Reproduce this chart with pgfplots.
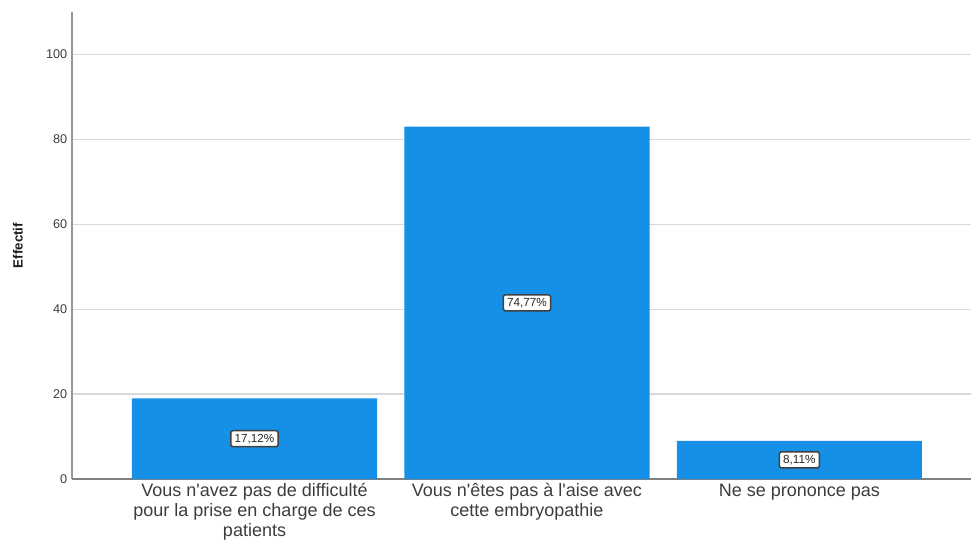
\documentclass[border=0pt]{standalone}
\usepackage{pgfplots}
\pgfplotsset{compat=1.18}
\usepackage{fontspec}
\setmainfont{Liberation Sans}
\definecolor{barblue}{RGB}{21,144,230}
\definecolor{gridgray}{RGB}{217,217,217}
\definecolor{axgray}{RGB}{150,150,150}
\definecolor{txtgray}{RGB}{60,60,60}
\begin{document}
\begin{tikzpicture}[x=1pt,y=1pt]
\useasboundingbox (-54,-48) rectangle (674.25,359.25);
\begin{axis}[
  at={(0,0)}, anchor=south west,
  scale only axis, width=674.25pt, height=350.25pt,
  xmin=-0.67, xmax=2.63, ymin=0, ymax=110,
  axis lines=left,
  axis line style={-},
  x axis line style={draw=axgray!85!black, line width=1pt},
  y axis line style={draw=axgray, line width=1.1pt},
  ymajorgrids,
  major grid style={draw=gridgray, line width=0.9pt},
  major tick length=0pt,
  ytick={0,20,40,60,80,100},
  yticklabel style={font=\fontsize{9.5}{11}\selectfont, text=txtgray},
  /pgf/number format/assume math mode=true,
  xtick={0,1,2},
  xticklabels={{Vous n\textquotesingle avez pas de difficulté\\pour la prise en charge de ces\\patients},
               {Vous n\textquotesingle êtes pas à l\textquotesingle aise avec\\cette embryopathie},
               {Ne se prononce pas}},
  xticklabel style={align=center, font=\fontsize{13.5}{15}\selectfont, text=txtgray},
  ylabel={Effectif},
  every axis y label/.style={at={(axis description cs:-0.0601,0.5)}, rotate=90, anchor=center,
     font=\bfseries\fontsize{10}{12}\selectfont, text=black!90},
  bar width=0.9,
  clip=false,
]
\addplot[ybar, fill=barblue, draw=none] coordinates {(0,19) (1,83) (2,9)};
\addplot[only marks, mark=none, point meta=explicit symbolic,
  nodes near coords,
  nodes near coords align=center,
  every node near coord/.append style={anchor=center, draw=black!75, line width=1.1pt,
     fill=white, rounded corners=1.2pt, inner xsep=2.8pt, inner ysep=2.4pt,
     font=\fontsize{8.8}{10}\selectfont, text=black!85}]
  coordinates {(0,9.5) [17,12\%] (1,41.5) [74,77\%] (2,4.5) [8,11\%]};
\end{axis}
\end{tikzpicture}
\end{document}
